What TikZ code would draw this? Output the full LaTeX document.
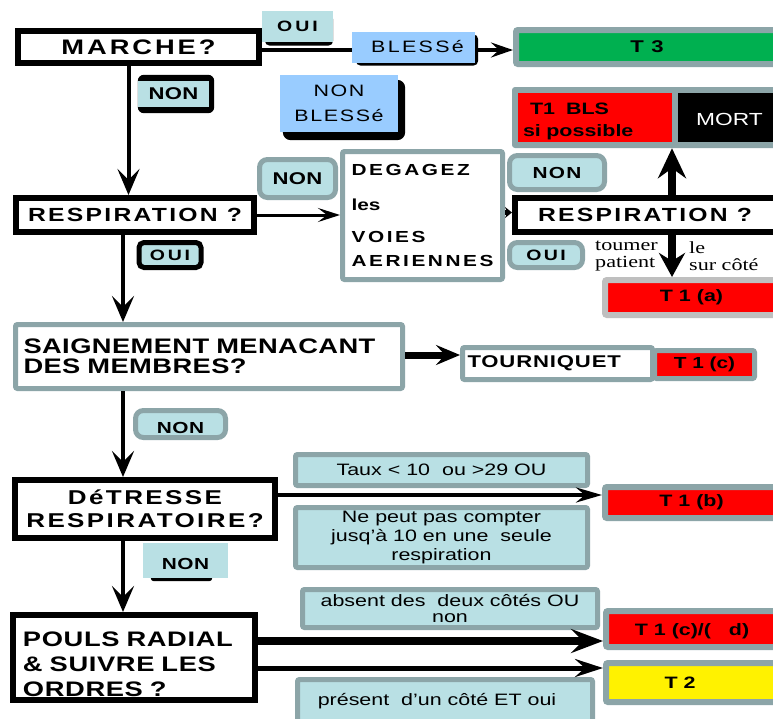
\documentclass[tikz,border=0pt]{standalone}
\usepackage{fontspec}
\setmainfont{Liberation Sans}[FakeStretch=1.3]
\newfontfamily\serifF{Liberation Serif}[FakeStretch=1.3]
\usetikzlibrary{arrows.meta,calc,backgrounds}
\definecolor{tealL}{HTML}{B9E0E4}
\definecolor{grayB}{HTML}{8CA5A8}
\definecolor{blueL}{HTML}{99CCFF}
\definecolor{greenT}{HTML}{00B050}
\definecolor{lgray}{HTML}{BFBFBF}
\newcommand\myfb[3]{\fontsize{#1pt}{#2pt}\selectfont\bfseries\addfontfeature{LetterSpace=#3}}
\newcommand\myfr[3]{\fontsize{#1pt}{#2pt}\selectfont\addfontfeature{LetterSpace=#3}}
\newcommand\myfs[2]{\serifF\fontsize{#1pt}{#2pt}\selectfont}
\tikzset{
  blkbox/.style={draw=black, line width=6pt, fill=white, inner sep=0pt},
  tealbox/.style={draw=grayB, line width=5pt, fill=tealL, rounded corners=2pt, inner sep=0pt},
  whitebox/.style={tealbox, fill=white},
  tagbox/.style={draw=grayB, line width=5pt, fill=tealL, rounded corners=8pt, inner sep=0pt},
  resbox/.style={draw=grayB, line width=6pt, rounded corners=2pt, inner sep=0pt},
  plainbox/.style={inner sep=0pt},
  bigarrow/.style={line width=4pt, -{Stealth[length=26pt,width=22pt,inset=11pt]}},
}
\begin{document}
\begin{tikzpicture}[x=1pt,y=-1pt]
\useasboundingbox (0,0) rectangle (773,718);
\begin{scope}[on background layer]
\fill[white] (0,0) rectangle (773,718);
\end{scope}

% top row
\node[blkbox, minimum width=241pt, minimum height=32pt, font={\myfb{21}{21}{14}}] (marche) at (138.5,47) {MARCHE?};
\node[plainbox, fill=tealL, minimum width=71pt, minimum height=31pt, font={\myfb{15}{15}{20}}] (ouiA) at (297.5,26) {OUI};
\node[plainbox, fill=blueL, minimum width=123pt, minimum height=31pt, font={\myfr{16.5}{16.5}{14}}] (bless) at (413.5,47) {\hspace*{8pt}BLESSé};
\node[resbox, fill=greenT, minimum width=262pt, minimum height=34pt, font={\myfb{17}{17}{8}}] (t3) at (647,47) {T 3};
\node[plainbox, fill=tealL, minimum width=71pt, minimum height=26pt, font={\myfb{17}{17}{2}}] (nonA) at (173.5,94) {NON};
\node[plainbox, fill=blueL, minimum width=118pt, minimum height=57pt, align=center, font={\myfr{16.5}{25}{10}}] (nb) at (339,103.5) {NON\\BLESSé};

\begin{scope}[on background layer]
\fill[black, rounded corners=5pt] ($(ouiA.north west)+(3,4)$) rectangle ($(ouiA.south east)+(0,4)$);
\fill[black, rounded corners=5pt] ($(bless.north west)+(4,3)$) rectangle ($(bless.south east)+(3,3)$);
\fill[black, rounded corners=6pt] ($(nonA.north west)+(0,-6)$) rectangle ($(nonA.south east)+(5,6)$);
\fill[black, rounded corners=8pt] ($(nb.north west)+(3,5)$) rectangle ($(nb.south east)+(7,8)$);
\end{scope}

% T1 BLS / MORT
\node[plainbox, fill=grayB, rounded corners=3pt, minimum width=269pt, minimum height=61pt] (t1bls) at (646.5,117.5) {};
\node[plainbox, fill=red, minimum width=154pt, minimum height=49pt, text width=144pt, align=left, font={\myfb{16.5}{22}{0}}] (t1red) at (595,117.5) {\rule{0pt}{19.5pt}\hspace*{7pt}T1~~BLS\\si possible};
\node[plainbox, fill=black, text=white, minimum width=103pt, minimum height=49pt, font={\myfr{17.5}{17.5}{0}}] (mort) at (729.5,117.5) {\rule{0pt}{17pt}MORT};

% respiration row
\node[blkbox, minimum width=238pt, minimum height=34pt, font={\myfb{19}{19}{12}}] (resp1) at (135,215) {RESPIRATION ?};
\node[tagbox, minimum width=76pt, minimum height=38pt, font={\myfb{17}{17}{2}}] (nonB) at (297.5,178.5) {NON};
\node[blkbox, line width=5pt, minimum width=62pt, minimum height=25pt, rounded corners=5pt, fill=tealL, font={\myfb{15}{15}{18}}] (ouiB) at (170,255) {OUI};
\node[whitebox, minimum width=160pt, minimum height=128pt, align=left, font={\myfb{16}{18}{0}}] (deg) at (422.5,215.5) {{\addfontfeature{LetterSpace=16}DEGAGEZ}\\[17pt]les\\[14pt]{\addfontfeature{LetterSpace=16}VOIES}\\[6pt]{\addfontfeature{LetterSpace=16}AERIENNES}};
\node[tagbox, minimum width=95pt, minimum height=34pt, font={\myfb{16}{16}{8}}] (nonC) at (557,172.5) {NON};
\node[tagbox, minimum width=73pt, minimum height=25pt, font={\myfb{15}{15}{16}}] (ouiC) at (546,255) {OUI};
\node[blkbox, minimum width=272pt, minimum height=34pt, font={\myfb{19}{19}{12}}] (resp2) at (651,215) {RESPIRATION ?\hspace*{12pt}};
\node[resbox, draw=lgray, fill=red, minimum width=173pt, minimum height=35pt, font={\myfb{16.5}{16.5}{0}}] (t1a) at (691.5,297.5) {T 1 (a)};
\node[plainbox, anchor=west, align=left, font={\myfs{17}{17}}] (tl) at (595,256) {toumer\\patient};
\node[plainbox, anchor=west, align=left, font={\myfs{17}{17}}] (tr) at (689,256) {le\\sur côté};

% saignement row
\node[whitebox, minimum width=387pt, minimum height=64pt, text width=371pt, align=left, font={\myfb{21}{19.5}{2}}] (saig) at (209,356.5) {SAIGNEMENT MENACANT\\DES MEMBRES?};
\node[whitebox, minimum width=190pt, minimum height=32pt, text width=180pt, align=left, font={\myfb{17}{17}{5}}] (tour) at (557.5,363.5) {TOURNIQUET};
\node[resbox, line width=5pt, fill=red, minimum width=100pt, minimum height=28pt, font={\myfb{16}{16}{0}}] (t1c) at (704.5,364.5) {T 1 (c)};
\node[tagbox, minimum width=90pt, minimum height=27pt, font={\myfb{16}{16}{4}}] (nonD) at (180.5,424) {\rule{0pt}{19pt}NON};

% detresse row
\node[tealbox, minimum width=292pt, minimum height=31pt, font={\myfr{16.5}{16.5}{0}}] (taux) at (441.5,470) {Taux < 10~~ou >29 OU};
\node[blkbox, minimum width=260pt, minimum height=58pt, align=center, font={\myfb{20}{23}{12}}] (det) at (145,509) {DéTRESSE\\RESPIRATOIRE?};
\node[resbox, fill=red, minimum width=173pt, minimum height=31pt, font={\myfb{16.5}{16.5}{0}}] (t1b) at (691.5,502.5) {T 1 (b)};
\node[tealbox, minimum width=292pt, minimum height=60pt, align=center, font={\myfr{16.5}{19}{0}}] (nepeut) at (441.5,537.5) {Ne peut pas compter\\jusq’à 10 en une~~seule\\respiration};
\node[plainbox, fill=tealL, minimum width=85pt, minimum height=35pt, font={\myfb{16}{16}{4}}] (nonE) at (185.5,560.5) {\rule{0pt}{19pt}NON};
\begin{scope}[on background layer]
\fill[black, rounded corners=3pt] ($(nonE.south west)+(8,-4)$) rectangle ($(nonE.south east)+(-16,3)$);
\end{scope}

% pouls row
\node[tealbox, minimum width=295pt, minimum height=38pt, align=center, font={\myfr{16.5}{16}{0}}] (absent) at (450,608.5) {absent des~~deux côtés OU\\non};
\node[blkbox, minimum width=242pt, minimum height=85pt, text width=222pt, align=left, font={\myfb{21}{25}{3}}] (pouls) at (134,657.5) {\rule{0pt}{29pt}POULS RADIAL\\\& SUIVRE LES\\ORDRES ?};
\node[resbox, fill=red, minimum width=172pt, minimum height=36pt, font={\myfb{16.5}{16.5}{0}}] (t1cd) at (692,629) {\rule{0pt}{17pt}T 1 (c)/(~~~d)};
\node[resbox, fill=yellow, minimum width=172pt, minimum height=39pt, font={\myfb{16.5}{16.5}{0}}] (t2) at (692,682.5) {T 2\hspace*{24pt}};
\node[tealbox, minimum width=295pt, minimum height=43pt, font={\myfr{16.5}{16.5}{0}}] (present) at (445,701) {présent~~d’un côté ET oui\hspace*{16pt}};

% connectors
\draw[line width=4pt] ([yshift=-3pt]marche.east) -- ([yshift=-3pt]bless.west);
\draw[line width=3.5pt, -{Stealth[length=22pt,width=15pt,inset=8pt]}] ([yshift=-3pt]bless.east) -- ([yshift=-3pt]t3.west);
\coordinate (mr) at ($(marche.south)+(-10,0)$);
\draw[bigarrow] (mr) -- (mr |- resp1.north);
\draw[line width=3pt, -{Stealth[length=22pt,width=14pt,inset=9pt]}] (resp1.east) -- (resp1.east -| deg.west);
\coordinate (dg) at ($(deg.east)+(0,-3)$);
\draw[line width=5pt, -{Stealth[length=7pt,width=11pt]}] (dg) -- (dg -| resp2.west);
\coordinate (upA) at ($(resp2.north)+(21,0)$);
\draw[line width=8pt, -{Stealth[length=30pt,width=28pt,inset=10pt]}] (upA) -- (upA |- t1bls.south);
\coordinate (dnA) at ($(resp2.south)+(21,0)$);
\draw[line width=8pt, -{Stealth[length=24pt,width=26pt,inset=8pt]}] (dnA) -- (dnA |- t1a.north);
\coordinate (rs) at ($(resp1.south)+(-12,0)$);
\draw[bigarrow] (rs) -- (rs |- saig.north);
\coordinate (st) at ($(saig.east)+(0,-1.5)$);
\draw[line width=7pt, -{Stealth[length=24pt,width=20pt,inset=9pt]}] (st) -- (st -| tour.west);
\coordinate (sd) at ($(saig.south)+(-86,0)$);
\draw[bigarrow] (sd) -- (sd |- det.north);
\coordinate (dt) at ($(det.east)+(0,-14)$);
\draw[line width=4pt, -{Stealth[length=26pt,width=15pt,inset=9pt]}] (dt) -- (dt -| t1b.west);
\coordinate (dp) at ($(det.south)+(-22,0)$);
\draw[bigarrow] (dp) -- (dp |- pouls.north);
\coordinate (p1) at ($(pouls.east)+(0,-16.5)$);
\draw[line width=8pt, -{Stealth[length=32pt,width=24pt,inset=12pt]}] (p1) -- (p1 -| t1cd.west);
\coordinate (p2) at ($(pouls.east)+(0,10.5)$);
\draw[line width=5pt, -{Stealth[length=28pt,width=18pt,inset=10pt]}] (p2) -- (p2 -| t2.west);
\end{tikzpicture}
\end{document}
